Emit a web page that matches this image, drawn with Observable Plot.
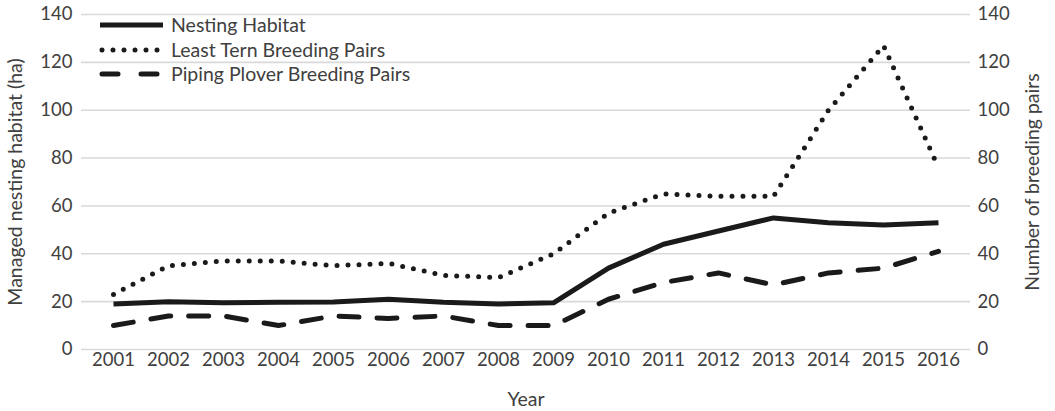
<!DOCTYPE html>
<html>
<head>
<meta charset="utf-8">
<script src="https://cdn.jsdelivr.net/npm/d3@7"></script>
<script src="https://cdn.jsdelivr.net/npm/@observablehq/plot@0.6"></script>
<style>
  html, body { margin: 0; padding: 0; background: #fff; }
  #wrap { position: relative; width: 1055px; height: 411px; font-family: Lato, "Open Sans", sans-serif; }
  #legend { position: absolute; left: 0; top: 0; pointer-events: none; }
</style>
</head>
<body>
<div id="wrap"></div>
<script>
const years = ["2001","2002","2003","2004","2005","2006","2007","2008","2009","2010","2011","2012","2013","2014","2015","2016"];
const nestingHabitat = [19, 20, 19.5, 19.7, 19.8, 21, 19.7, 19, 19.5, 34, 44, 49.5, 55, 53, 52, 53];
const leastTern = [23, 35, 37, 37, 35, 36, 31, 30, 40, 57, 65, 64, 64, 100, 127, 76];
const pipingPlover = [10, 14, 14, 10, 14, 13, 14, 10, 10, 21, 28, 32, 27, 32, 34, 41];
const seriesNames = ["Nesting Habitat", "Least Tern Breeding Pairs", "Piping Plover Breeding Pairs"];
const yTicks = [0, 20, 40, 60, 80, 100, 120, 140];

const styles = [
  {strokeWidth: 5, strokeDasharray: null, strokeLinecap: "butt"},
  {strokeWidth: 5, strokeDasharray: "0,11", strokeLinecap: "round"},
  {strokeWidth: 5, strokeDasharray: "20,18", strokeLinecap: "round"}
];
const seriesValues = [nestingHabitat, leastTern, pipingPlover];
const rows = seriesValues.map(vals => years.map((y, i) => ({year: y, value: vals[i]})));

const textColor = "#404040";
const lineColor = "#1a1a1a";
const FONT = "Lato, 'Open Sans', sans-serif";

const chart = Plot.plot({
  width: 1055,
  height: 411,
  marginLeft: 81,
  marginRight: 85,
  marginTop: 14,
  marginBottom: 62,
  style: {fontFamily: FONT, fontSize: "18.5px", color: textColor, background: "#fff"},
  x: {type: "point", domain: years, padding: 0.5},
  y: {domain: [0, 140]},
  marks: [
    Plot.gridY(yTicks, {stroke: "#d9d9d9", strokeOpacity: 1, strokeWidth: 1.6}),
    Plot.axisY(yTicks, {anchor: "left", tickSize: 0, tickPadding: 9, fontSize: 18.5, label: null, fill: textColor}),
    Plot.axisY({anchor: "left", ticks: [], tickSize: 0, label: "Managed nesting habitat (ha)", labelAnchor: "center", labelArrow: "none", labelOffset: 73, fontSize: 19.5, fill: textColor}),
    Plot.axisY(yTicks, {anchor: "right", tickSize: 0, tickPadding: 7, fontSize: 18.5, label: null, fill: textColor}),
    Plot.axisY({anchor: "right", ticks: [], tickSize: 0, label: "Number of breeding pairs", labelAnchor: "center", labelArrow: "none", labelOffset: 68, fontSize: 19.5, fill: textColor}),
    Plot.axisX({tickSize: 0, tickPadding: 3, fontSize: 18.5, label: null, fill: textColor}),
    Plot.axisX({ticks: [], tickSize: 0, label: "Year", labelAnchor: "center", labelArrow: "none", labelOffset: 56, fontSize: 19.5, fill: textColor}),
    ...rows.map((data, k) => Plot.line(data, {
      x: "year", y: "value", stroke: lineColor,
      strokeWidth: styles[k].strokeWidth,
      strokeDasharray: styles[k].strokeDasharray,
      strokeLinecap: styles[k].strokeLinecap,
      strokeLinejoin: "round"
    }))
  ]
});
const wrap = document.getElementById("wrap");
wrap.appendChild(chart);

// Legend overlay
const ns = "http://www.w3.org/2000/svg";
const leg = document.createElementNS(ns, "svg");
leg.setAttribute("id", "legend");
leg.setAttribute("width", 500);
leg.setAttribute("height", 100);
const legRowsY = [25, 50, 74];
seriesNames.forEach((name, k) => {
  const y = legRowsY[k];
  const ln = document.createElementNS(ns, "line");
  ln.setAttribute("x1", k === 0 ? 100 : 102);
  ln.setAttribute("x2", k === 2 ? 157 : 163);
  ln.setAttribute("y1", y);
  ln.setAttribute("y2", y);
  ln.setAttribute("stroke", lineColor);
  ln.setAttribute("stroke-width", styles[k].strokeWidth);
  ln.setAttribute("stroke-linecap", styles[k].strokeLinecap);
  if (styles[k].strokeDasharray) ln.setAttribute("stroke-dasharray", k === 1 ? "0,11" : "16,23");
  leg.appendChild(ln);
  const t = document.createElementNS(ns, "text");
  t.setAttribute("x", 171);
  t.setAttribute("y", y);
  t.setAttribute("dy", "0.35em");
  t.setAttribute("fill", textColor);
  t.setAttribute("font-size", "19.5px");
  t.setAttribute("font-family", FONT);
  t.textContent = name;
  leg.appendChild(t);
});
wrap.appendChild(leg);
</script>
</body>
</html>
